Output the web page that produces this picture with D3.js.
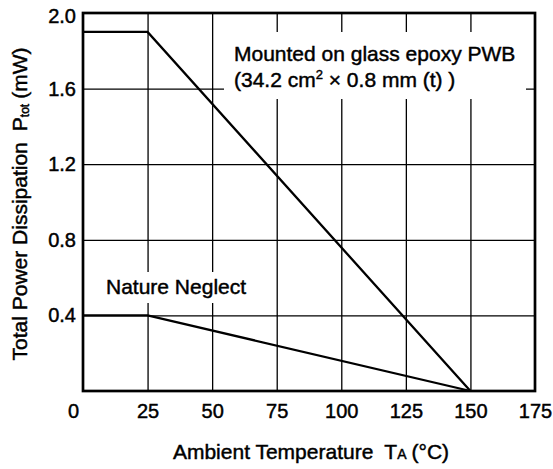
<!DOCTYPE html>
<html>
<head>
<meta charset="utf-8">
<script src="https://cdn.jsdelivr.net/npm/d3@7"></script>
<style>
  body { margin: 0; background: #fff; }
  svg text { font-family: "Liberation Sans", Arial, sans-serif; fill: #000; stroke: #000; stroke-width: 0.45px; }
</style>
</head>
<body>
<svg id="chart" width="553" height="469"></svg>
<script>
// values
var tempTicks = [0, 25, 50, 75, 100, 125, 150, 175];
var powerTicks = [0.4, 0.8, 1.2, 1.6, 2.0];
var temps = [0, 25, 150];
var pwbPower = [1.9, 1.9, 0];
var freePower = [0.4, 0.4, 0];
var pwbLabel = ["Mounted on glass epoxy PWB", "(34.2 cm", "2", " \u00d7 0.8 mm (t) )"];
var freeLabel = "Nature Neglect";

var svg = d3.select("#chart"),
  MARGINS = { top: 13, right: 18, bottom: 78, left: 83 },
  WIDTH = 553 - MARGINS.left - MARGINS.right,
  HEIGHT = 469 - MARGINS.top - MARGINS.bottom;

var x = d3.scaleLinear().domain([0, 175]).range([0, WIDTH]);
var y = d3.scaleLinear().domain([0, 2.0]).range([HEIGHT, 0]);

var g = svg.append("g").attr("transform", "translate(" + MARGINS.left + "," + MARGINS.top + ")");

// grid
g.append("g")
  .attr("transform", "translate(0," + HEIGHT + ")")
  .call(d3.axisBottom(x).tickValues(tempTicks.filter(function (d) { return d > 0 && d < 175; }))
    .tickSize(-HEIGHT).tickFormat(""))
  .call(function (s) { s.select(".domain").remove(); s.selectAll("line").attr("stroke", "#000").attr("stroke-width", 1.3); });

g.append("g")
  .call(d3.axisLeft(y).tickValues(powerTicks.filter(function (d) { return d < 2; }))
    .tickSize(-WIDTH).tickFormat(""))
  .call(function (s) { s.select(".domain").remove(); s.selectAll("line").attr("stroke", "#000").attr("stroke-width", 1.3); });

// white boxes behind the notes
g.append("rect").attr("x", 141).attr("y", 19).attr("width", 302).attr("height", 67).attr("fill", "#fff");
g.append("rect").attr("x", 17).attr("y", 259).attr("width", 155).attr("height", 31).attr("fill", "#fff");

// notes
var note = g.append("text").attr("font-size", 21);
note.append("tspan").attr("x", 151).attr("y", 48).text(pwbLabel[0]);
note.append("tspan").attr("x", 151).attr("y", 74).text(pwbLabel[1]);
note.append("tspan").attr("font-size", 13).attr("dy", -8).text(pwbLabel[2]);
note.append("tspan").attr("dy", 8).text(pwbLabel[3]);

g.append("text").attr("font-size", 21).attr("x", 23).attr("y", 281).text(freeLabel);

// curves
var line = d3.line().x(function (d) { return x(d[0]); }).y(function (d) { return y(d[1]); });
[pwbPower, freePower].forEach(function (p) {
  g.append("path")
    .datum(temps.map(function (t, i) { return [t, p[i]]; }))
    .attr("d", line)
    .attr("fill", "none")
    .attr("stroke", "#000")
    .attr("stroke-width", 2.3);
});

// frame
g.append("rect").attr("width", WIDTH).attr("height", HEIGHT)
  .attr("fill", "none").attr("stroke", "#000").attr("stroke-width", 2.7);

// tick labels
g.append("g")
  .attr("transform", "translate(0," + HEIGHT + ")")
  .call(d3.axisBottom(x).tickValues(tempTicks).tickSize(0).tickPadding(13))
  .call(function (s) {
    s.select(".domain").remove();
    s.selectAll("text").attr("font-size", 20).attr("font-family", null)
      .attr("x", function (d) { return d === 0 ? -10 : 0; });
  });

g.append("g")
  .call(d3.axisLeft(y).tickValues(powerTicks).tickSize(0).tickPadding(7).tickFormat(d3.format(".1f")))
  .call(function (s) {
    s.select(".domain").remove();
    s.selectAll("text").attr("font-size", 20).attr("font-family", null)
      .attr("y", function (d) { return d === 2 ? 3 : 0; });
  });

// axis titles
var xt = svg.append("text").attr("font-size", 21).attr("text-anchor", "middle")
  .attr("x", MARGINS.left + WIDTH / 2 + 2).attr("y", 459);
xt.append("tspan").text("Ambient Temperature");
xt.append("tspan").attr("dx", 11).text("T");
xt.append("tspan").attr("font-size", 14).text("A");
xt.append("tspan").attr("dx", 5).text("(\u00b0C)");

var yt = svg.append("text").attr("font-size", 21).attr("text-anchor", "middle")
  .attr("transform", "translate(27," + (MARGINS.top + HEIGHT / 2 + 2) + ") rotate(-90)");
yt.append("tspan").text("Total Power Dissipation");
yt.append("tspan").attr("dx", 11).text("P");
yt.append("tspan").attr("font-size", 12).attr("dy", 2).text("tot");
yt.append("tspan").attr("dy", -2).attr("dx", 5).text("(mW)");
</script>
</body>
</html>
